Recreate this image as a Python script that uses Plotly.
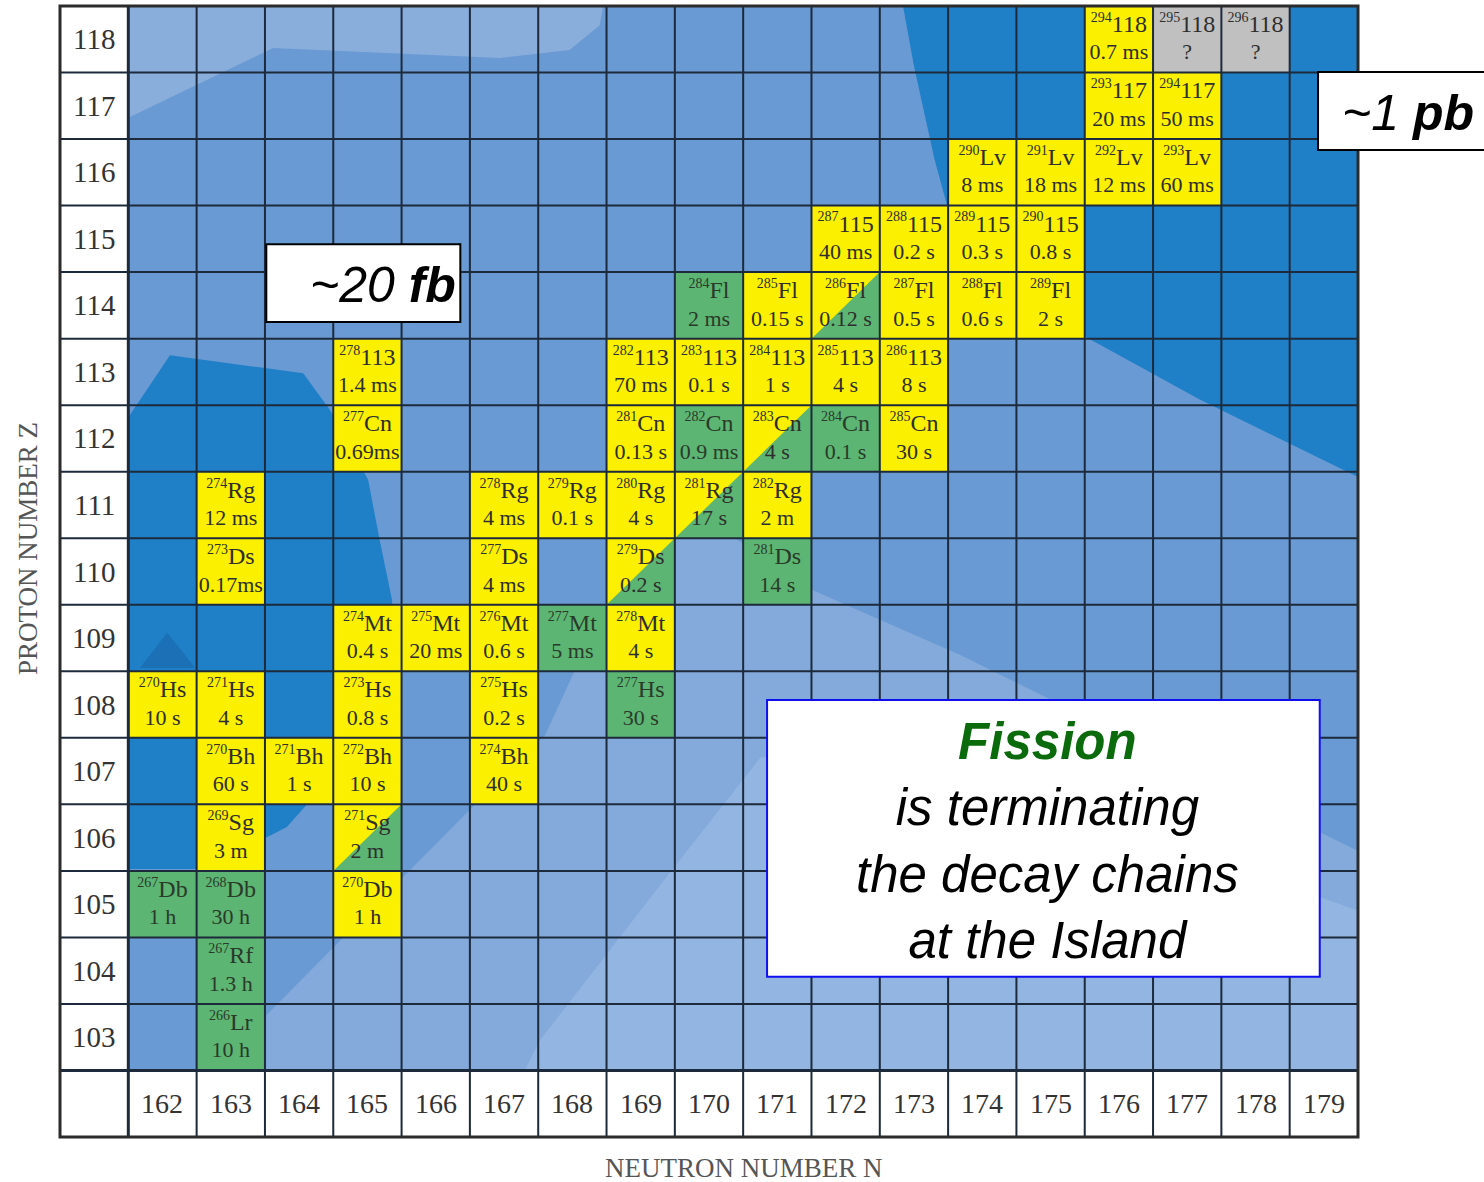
import plotly.graph_objects as go

# ---- chart extent -------------------------------------------------------
neutron_numbers = list(range(162, 180))   # N, columns
proton_numbers = list(range(103, 119))    # Z, rows

# ---- nuclides: neutron number, proton number, symbol, half-life, decay ----
# decay: "a" = alpha (yellow), "sf" = fission (green), "a/sf" = both, "?" = unknown
nuc_N = [176, 177, 178,
         176, 177,
         174, 175, 176, 177,
         172, 173, 174, 175,
         170, 171, 172, 173, 174, 175,
         165, 169, 170, 171, 172, 173,
         165, 169, 170, 171, 172, 173,
         163, 167, 168, 169, 170, 171,
         163, 167, 169, 171,
         165, 166, 167, 168, 169,
         162, 163, 165, 167, 169,
         163, 164, 165, 167,
         163, 165,
         162, 163, 165,
         163,
         163]
nuc_Z = [118, 118, 118,
         117, 117,
         116, 116, 116, 116,
         115, 115, 115, 115,
         114, 114, 114, 114, 114, 114,
         113, 113, 113, 113, 113, 113,
         112, 112, 112, 112, 112, 112,
         111, 111, 111, 111, 111, 111,
         110, 110, 110, 110,
         109, 109, 109, 109, 109,
         108, 108, 108, 108, 108,
         107, 107, 107, 107,
         106, 106,
         105, 105, 105,
         104,
         103]
nuc_symbol = ["118", "118", "118",
              "117", "117",
              "Lv", "Lv", "Lv", "Lv",
              "115", "115", "115", "115",
              "Fl", "Fl", "Fl", "Fl", "Fl", "Fl",
              "113", "113", "113", "113", "113", "113",
              "Cn", "Cn", "Cn", "Cn", "Cn", "Cn",
              "Rg", "Rg", "Rg", "Rg", "Rg", "Rg",
              "Ds", "Ds", "Ds", "Ds",
              "Mt", "Mt", "Mt", "Mt", "Mt",
              "Hs", "Hs", "Hs", "Hs", "Hs",
              "Bh", "Bh", "Bh", "Bh",
              "Sg", "Sg",
              "Db", "Db", "Db",
              "Rf",
              "Lr"]
nuc_halflife = ["0.7 ms", "?", "?",
                "20 ms", "50 ms",
                "8 ms", "18 ms", "12 ms", "60 ms",
                "40 ms", "0.2 s", "0.3 s", "0.8 s",
                "2 ms", "0.15 s", "0.12 s", "0.5 s", "0.6 s", "2 s",
                "1.4 ms", "70 ms", "0.1 s", "1 s", "4 s", "8 s",
                "0.69ms", "0.13 s", "0.9 ms", "4 s", "0.1 s", "30 s",
                "12 ms", "4 ms", "0.1 s", "4 s", "17 s", "2 m",
                "0.17ms", "4 ms", "0.2 s", "14 s",
                "0.4 s", "20 ms", "0.6 s", "5 ms", "4 s",
                "10 s", "4 s", "0.8 s", "0.2 s", "30 s",
                "60 s", "1 s", "10 s", "40 s",
                "3 m", "2 m",
                "1 h", "30 h", "1 h",
                "1.3 h",
                "10 h"]
nuc_decay = ["a", "?", "?",
             "a", "a",
             "a", "a", "a", "a",
             "a", "a", "a", "a",
             "sf", "a", "a/sf", "a", "a", "a",
             "a", "a", "a", "a", "a", "a",
             "a", "a", "sf", "a/sf", "sf", "a",
             "a", "a", "a", "a", "a/sf", "a",
             "a", "a", "a/sf", "sf",
             "a", "a", "a", "sf", "a",
             "a", "a", "a", "a", "sf",
             "a", "a", "a", "a",
             "a", "a/sf",
             "sf", "sf", "a",
             "sf",
             "sf"]

# ---- production cross-section contours behind the grid (N, Z vertices) ----
region_upper_left = [(161.5, 118.5), (161.5, 116.82), (163.62, 117.87), (166.94, 117.72),
                     (167.96, 117.84), (168.40, 118.21), (168.45, 118.5)]
region_upper_right = [(172.84, 118.5), (173.0, 117.6), (173.15, 116.9), (173.3, 116.2),
                      (173.48, 115.52), (175.49, 113.54), (177.19, 112.58),
                      (179.5, 111.42), (179.5, 118.5)]
region_left = [(161.5, 112.32), (162.11, 113.25), (164.06, 112.98), (164.45, 112.43),
               (165.01, 111.38), (165.18, 110.47), (165.36, 109.57), (165.40, 108.58),
               (164.60, 106.72), (164.16, 106.55), (163.82, 106.16), (163.52, 106.0),
               (162.52, 105.53), (161.5, 105.53)]
region_left_core = [(161.67, 108.55), (162.07, 109.08), (162.48, 108.55)]
region_lower = [(163.52, 102.5), (163.52, 103.33), (166.5, 106.42), (167.6, 107.54),
                (168.51, 109.57), (169.5, 110.56), (170.35, 110.52), (171.52, 109.72),
                (173.67, 108.75), (179.5, 105.8), (179.5, 102.5)]
region_lower_inner = [(167.3, 102.5), (167.53, 102.96), (169.38, 105.41), (170.75, 107.2),
                      (172.5, 107.5), (179.5, 104.9), (179.5, 102.5)]

# ---- colours --------------------------------------------------------------
BLUE_MID = "#6a9ad3"
BLUE_DARK = "#1f7fc7"
BLUE_CORE = "#1b70b6"
BLUE_PALE = "#8aaedc"
BLUE_LOW = "#83aadb"
BLUE_LOWEST = "#93b5e1"
ALPHA_YELLOW = "#fbf000"
FISSION_GREEN = "#5cb572"
UNKNOWN_GREY = "#c0c0c0"
GRID = "#1c2a3b"
SERIF = "Liberation Serif, DejaVu Serif, serif"
SANS = "Liberation Sans, Arial, sans-serif"

n_lo, n_hi = neutron_numbers[0] - 0.5, neutron_numbers[-1] + 0.5
z_lo, z_hi = proton_numbers[0] - 0.5, proton_numbers[-1] + 0.5
label_col = neutron_numbers[0] - 1      # column holding the Z labels
label_row = proton_numbers[0] - 1       # row holding the N labels


def polygon(points, color):
    path = "M " + " L ".join(f"{x},{y}" for x, y in points) + " Z"
    return dict(type="path", path=path, xref="x", yref="y",
                fillcolor=color, line=dict(width=0), layer="below")


def cell(n, z, color):
    return dict(type="rect", xref="x", yref="y", x0=n - 0.5, x1=n + 0.5,
                y0=z - 0.5, y1=z + 0.5, fillcolor=color, line=dict(width=0),
                layer="below")


shapes = [dict(type="rect", xref="x", yref="y", x0=n_lo, x1=n_hi, y0=z_lo, y1=z_hi,
               fillcolor=BLUE_MID, line=dict(width=0), layer="below")]
shapes += [polygon(region_upper_left, BLUE_PALE),
           polygon(region_lower, BLUE_LOW),
           polygon(region_lower_inner, BLUE_LOWEST),
           polygon(region_upper_right, BLUE_DARK),
           polygon(region_left, BLUE_DARK),
           polygon(region_left_core, BLUE_CORE)]

# nuclide cells
decay_colors = {"a": ALPHA_YELLOW, "sf": FISSION_GREEN, "?": UNKNOWN_GREY}
for n, z, d in zip(nuc_N, nuc_Z, nuc_decay):
    if d == "a/sf":
        shapes.append(cell(n, z, ALPHA_YELLOW))
        shapes.append(polygon([(n - 0.5, z - 0.5), (n + 0.5, z + 0.5), (n + 0.5, z - 0.5)],
                              FISSION_GREEN))
    else:
        shapes.append(cell(n, z, decay_colors[d]))

# white label column and label row
shapes.append(dict(type="rect", xref="x", yref="y", x0=label_col - 0.5, x1=n_lo,
                   y0=z_lo, y1=z_hi, fillcolor="white", line=dict(width=0), layer="below"))
shapes.append(dict(type="rect", xref="x", yref="y", x0=label_col - 0.5, x1=n_hi,
                   y0=label_row - 0.5, y1=z_lo, fillcolor="white", line=dict(width=0),
                   layer="below"))

# grid
for k in range(len(neutron_numbers) + 1):
    x = n_lo + k
    shapes.append(dict(type="line", xref="x", yref="y", x0=x, x1=x,
                       y0=label_row - 0.5, y1=z_hi, layer="below",
                       line=dict(color=GRID, width=3 if k == 0 else 2)))
for k in range(len(proton_numbers) + 1):
    y = z_lo + k
    shapes.append(dict(type="line", xref="x", yref="y", x0=label_col - 0.5, x1=n_hi,
                       y0=y, y1=y, layer="below",
                       line=dict(color=GRID, width=3 if k == 0 else 2)))
shapes.append(dict(type="rect", xref="paper", yref="paper", x0=0, x1=1, y0=0, y1=1,
                   line=dict(color="#2b2b2b", width=3), fillcolor="rgba(0,0,0,0)"))

# callout boxes
shapes.append(dict(type="rect", xref="x", yref="y", x0=163.52, x1=166.36,
                   y0=113.75, y1=114.92, fillcolor="white",
                   line=dict(color="black", width=2)))
shapes.append(dict(type="rect", xref="paper", yref="paper", x0=0.9692, x1=1.12,
                   y0=0.8727, y1=0.9416, fillcolor="white",
                   line=dict(color="black", width=2)))
shapes.append(dict(type="rect", xref="x", yref="y", x0=170.85, x1=178.94,
                   y0=103.91, y1=108.07, fillcolor="white",
                   line=dict(color="#1010ee", width=2)))

# ---- cell texts as text traces ---------------------------------------------
text_colors = ["#2a3a2a" if d == "sf" else "#2e2e2e" for d in nuc_decay]
fig = go.Figure()
fig.add_trace(go.Scatter(
    x=nuc_N, y=[z + 0.2 for z in nuc_Z], mode="text",
    text=[f"<sup><span style='font-size:14px'>{n + z}</span></sup>{s}"
          for n, z, s in zip(nuc_N, nuc_Z, nuc_symbol)],
    textposition="middle center",
    textfont=dict(family=SERIF, size=24, color=text_colors),
    hoverinfo="skip", showlegend=False, cliponaxis=False))
fig.add_trace(go.Scatter(
    x=nuc_N, y=[z - 0.22 for z in nuc_Z], mode="text",
    text=nuc_halflife, textposition="middle center",
    textfont=dict(family=SERIF, size=22, color=text_colors),
    hoverinfo="skip", showlegend=False, cliponaxis=False))

annotations = []
for z in proton_numbers:
    annotations.append(dict(x=label_col, y=z, xref="x", yref="y", showarrow=False,
                            xanchor="center", yanchor="middle",
                            text=str(z), font=dict(family=SERIF, size=29, color="#333")))
for n in neutron_numbers:
    annotations.append(dict(x=n, y=label_row, xref="x", yref="y", showarrow=False,
                            xanchor="center", yanchor="middle",
                            text=str(n), font=dict(family=SERIF, size=28, color="#333")))

# axis titles
annotations.append(dict(x=-0.0246, y=0.52, xref="paper", yref="paper", showarrow=False,
                        xanchor="center", yanchor="middle",
                        text="PROTON NUMBER Z", textangle=-90,
                        font=dict(family=SERIF, size=27, color="#555")))
annotations.append(dict(x=0.527, y=-0.027, xref="paper", yref="paper", showarrow=False,
                        xanchor="center", yanchor="middle",
                        text="NEUTRON NUMBER N",
                        font=dict(family=SERIF, size=27, color="#555")))

# callout texts
annotations.append(dict(x=166.33, y=114.3, xref="x", yref="y", showarrow=False,
                        xanchor="right", yanchor="middle",
                        text="<i>~20 <b>fb</b></i>",
                        font=dict(family=SANS, size=50, color="black")))
annotations.append(dict(x=0.986, y=0.905, xref="paper", yref="paper", showarrow=False,
                        xanchor="left", yanchor="middle",
                        text="<i>~1 <b>pb</b></i>",
                        font=dict(family=SANS, size=50, color="black")))
annotations.append(dict(x=174.95, y=105.95, xref="x", yref="y", showarrow=False,
                        xanchor="center", yanchor="middle", align="center",
                        text=("<b><i><span style='color:#0b6a0b'>Fission</span></i></b><br>"
                              "<i>is terminating</i><br><i>the decay chains</i><br>"
                              "<i>at the Island</i>"),
                        font=dict(family=SANS, size=51, color="black")))

fig.update_layout(
    width=1484, height=1182,
    margin=dict(l=60, r=126, t=6, b=45),
    paper_bgcolor="white", plot_bgcolor="white",
    xaxis=dict(range=[label_col - 0.5, n_hi], visible=False, fixedrange=True),
    yaxis=dict(range=[label_row - 0.5, z_hi], visible=False, fixedrange=True),
    shapes=shapes, annotations=annotations, showlegend=False,
)
fig.write_html("out.html")
